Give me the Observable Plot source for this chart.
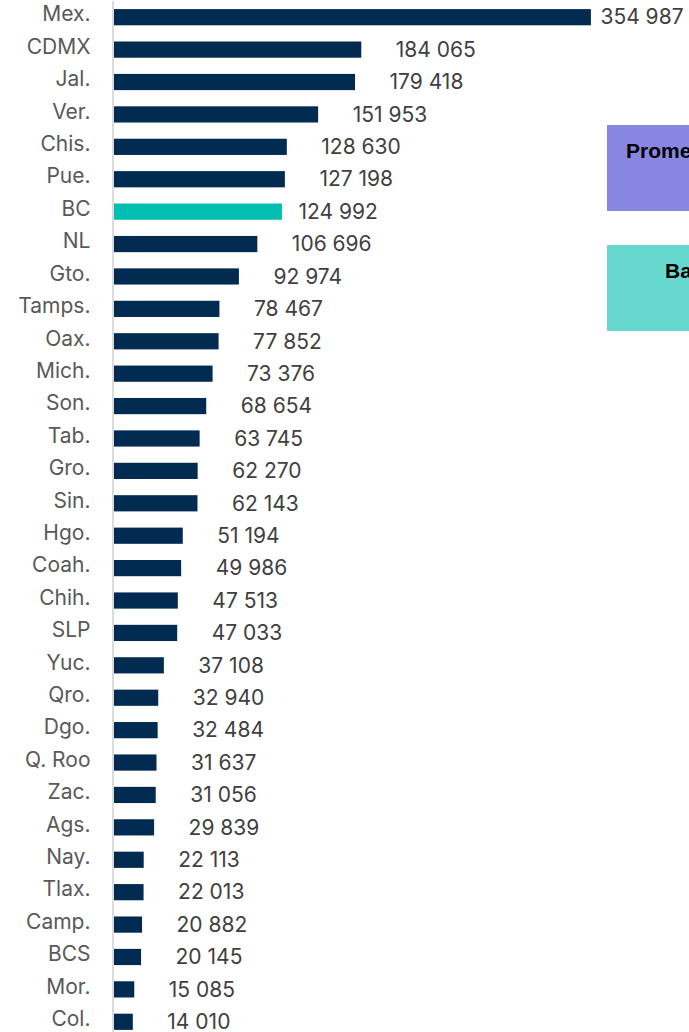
<!DOCTYPE html>
<html>
<head>
<meta charset="utf-8">
<script src="https://cdn.jsdelivr.net/npm/d3@7"></script>
<script src="https://cdn.jsdelivr.net/npm/@observablehq/plot@0.6"></script>
<style>
  html, body { margin: 0; padding: 0; background: #fff; overflow: hidden; }
  #wrap { position: relative; width: 689px; height: 1032px; overflow: hidden; }
  .box { position: absolute; left: 607px; width: 260px; height: 86px;
         font-family: "Liberation Sans", Arial, sans-serif; font-weight: bold;
         font-size: 21px; line-height: 21px; color: #000; white-space: nowrap; }
  .box span { position: absolute; top: 15px; }
</style>
</head>
<body>
<div id="wrap">
  <div id="chart"></div>
  <div class="box" style="top:125px;background:#8787E3;"><span style="left:19px;">Promedio nacional</span></div>
  <div class="box" style="top:245px;background:#66D8D0;"><span style="left:58px;">Baja California</span></div>
</div>
<script>
const states = ["Mex.","CDMX","Jal.","Ver.","Chis.","Pue.","BC","NL","Gto.","Tamps.","Oax.","Mich.","Son.","Tab.","Gro.","Sin.","Hgo.","Coah.","Chih.","SLP","Yuc.","Qro.","Dgo.","Q. Roo","Zac.","Ags.","Nay.","Tlax.","Camp.","BCS","Mor.","Col."];
const values = [354987,184065,179418,151953,128630,127198,124992,106696,92974,78467,77852,73376,68654,63745,62270,62143,51194,49986,47513,47033,37108,32940,32484,31637,31056,29839,22113,22013,20882,20145,15085,14010];
const highlight = ["BC"];

const data = states.map((s, i) => ({state: s, value: values[i]}));
const fmt = v => d3.format(",")(v).replace(/,/g, " ");
const navy = "#022B52";
const teal = "#00BFB1";

const chart = Plot.plot({
  width: 689,
  height: 1040,
  marginLeft: 114,
  marginRight: 0,
  marginTop: 1,
  marginBottom: 2,
  style: {fontFamily: "Inter, 'Open Sans', sans-serif", background: "transparent"},
  x: {domain: [0, 428000], axis: null},
  y: {domain: states, paddingInner: 0.5, paddingOuter: 0.25, round: false, label: null, axis: null},
  color: {type: "identity"},
  marks: [
    Plot.barX(data, {x: "value", y: "state", fill: d => highlight.includes(d.state) ? teal : navy}),
    Plot.ruleX([0], {stroke: "#cfcfcf", strokeWidth: 1.5, dx: -1.5}),
    Plot.axisY({tickSize: 0, tickPadding: 24, fontSize: 21, fill: "#595959", dy: -3, label: null,
      style: {letterSpacing: "0.8px"}}),
    Plot.text(data.filter(d => d.state !== "Mex." && !highlight.includes(d.state)),
      {x: "value", y: "state", text: d => fmt(d.value), textAnchor: "start", dx: 34, fontSize: 21, fill: "#404040"}),
    Plot.text(data.filter(d => highlight.includes(d.state)),
      {x: "value", y: "state", text: d => fmt(d.value), textAnchor: "start", dx: 16, fontSize: 21, fill: "#404040"}),
    Plot.text(data.filter(d => d.state === "Mex."),
      {x: "value", y: "state", text: d => fmt(d.value), textAnchor: "start", dx: 9, fontSize: 21, fill: "#404040"})
  ]
});
document.getElementById("chart").appendChild(chart);
</script>
</body>
</html>
